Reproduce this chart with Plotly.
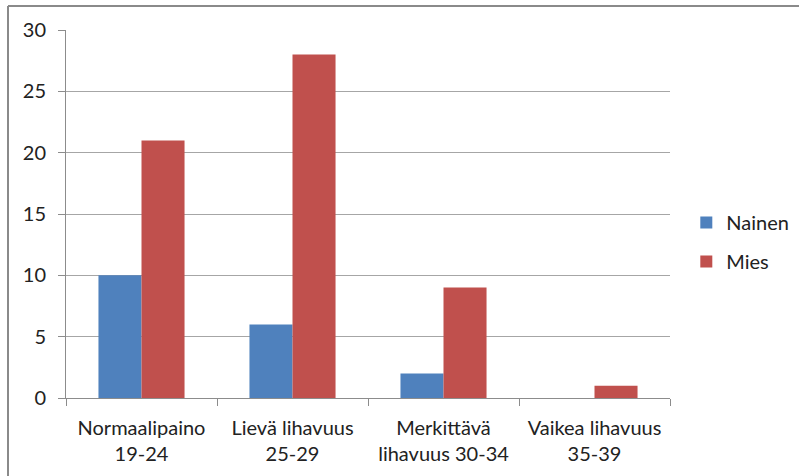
import plotly.graph_objects as go

categories = ["Normaalipaino<br>19-24", "Lievä lihavuus<br>25-29",
              "Merkittävä<br>lihavuus 30-34", "Vaikea lihavuus<br>35-39"]
nainen = [10, 6, 2, 0]
mies = [21, 28, 9, 1]
y_ticks = [0, 5, 10, 15, 20, 25, 30]

FONT = "Lato"
SIZE = 20
TEXT = "#222222"
GRID = "#a6a6a6"
AXIS = "#8c8c8c"

fig = go.Figure()
fig.add_trace(go.Bar(name="Nainen", x=categories, y=nainen,
                     marker=dict(color="#4f81bd", line=dict(width=0)),
                     legendgroup="a"))
fig.add_trace(go.Bar(name="Mies", x=categories, y=mies,
                     marker=dict(color="#c0504d", line=dict(width=0)),
                     legendgroup="b"))

fig.update_layout(
    width=799, height=476,
    paper_bgcolor="white", plot_bgcolor="white",
    margin=dict(l=66, r=129, t=30, b=78, autoexpand=False),
    barmode="group", bargap=0.43, bargroupgap=0,
    font=dict(family=FONT, size=SIZE, color=TEXT),
    showlegend=True,
    legend=dict(x=1.027, xanchor="left", y=0.424, yanchor="middle",
                font=dict(family=FONT, size=SIZE, color=TEXT),
                tracegroupgap=10, traceorder="grouped",
                bgcolor="rgba(0,0,0,0)"),
    xaxis=dict(
        showline=True, linecolor=AXIS, linewidth=1,
        ticks="outside", ticklen=7, tickcolor=AXIS, tickson="boundaries",
        tickfont=dict(family=FONT, size=SIZE, color=TEXT),
        ticklabelstandoff=12,
        showgrid=False, fixedrange=True,
    ),
    yaxis=dict(
        range=[0, 30], tickvals=y_ticks,
        showline=True, linecolor=AXIS, linewidth=1,
        ticks="outside", ticklen=7, tickcolor=AXIS,
        showgrid=True, gridcolor=GRID, gridwidth=1,
        zeroline=False,
        tickfont=dict(family=FONT, size=SIZE, color=TEXT),
        ticklabelstandoff=8,
    ),
)

# chart frame: top and left edges
fig.add_shape(type="line", xref="paper", yref="paper",
              x0=-58 / 604, x1=1.3, y0=392 / 368, y1=392 / 368,
              line=dict(color="#8a8a8a", width=2))
fig.add_shape(type="line", xref="paper", yref="paper",
              x0=-58 / 604, x1=-58 / 604, y0=392 / 368, y1=-0.3,
              line=dict(color="#8a8a8a", width=2))

fig.write_html("out.html")
